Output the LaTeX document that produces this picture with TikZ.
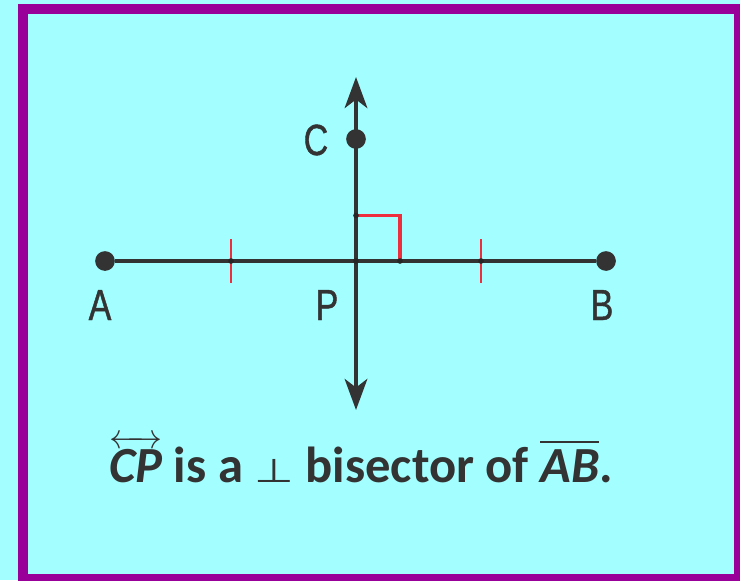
\documentclass[tikz,border=0pt]{standalone}
\usepackage{amsmath,amssymb}
\usepackage{fontspec}
\usepackage{graphicx}
\usetikzlibrary{arrows.meta,positioning,calc}
\newfontfamily\lblfont[FakeStretch=0.78,FakeBold=1]{Liberation Sans}
\newfontfamily\captfont{Carlito}
\newfontfamily\symfont{DejaVu Sans}
\definecolor{bgcyan}{HTML}{A3FEFF}
\definecolor{framepurple}{HTML}{990099}
\definecolor{inkgray}{HTML}{333333}
\definecolor{markred}{HTML}{EE2E3C}

\begin{document}
\begin{tikzpicture}[
    x=0.025cm, y=-0.025cm,
    seg/.style={draw=inkgray, line width=3.2pt},
    ray/.style={seg, -{Stealth[length=22pt, width=16pt, inset=6pt]}},
    bigdot/.style={circle, fill=inkgray, inner sep=0pt, minimum size=14pt},
    smalldot/.style={circle, fill=black!85, inner sep=0pt, minimum size=4pt},
    tick/.style={draw=markred, line width=2pt},
    lbl/.style={text=inkgray, font=\lblfont\fontsize{31}{31}\selectfont, inner sep=0pt}
]
\useasboundingbox (0,0) rectangle (740,580);
\fill[bgcyan] (0,0) rectangle (740,580);
\draw[framepurple, line width=7.1pt] (23,9) rectangle (739,579);

% points
\node[bigdot] (A) at (105,261) {};
\node[bigdot] (B) at (606,261) {};
\node[bigdot] (C) at (356,139) {};
\coordinate (P) at (356,261);
\coordinate (top) at (356,77);
\coordinate (bot) at (356,410);
\coordinate (M1) at (231,261);
\coordinate (M2) at (481,261);

% segment and perpendicular line
\draw[seg] (A) -- (B);
\draw[ray] (P) -- (top);
\draw[ray] (P) -- (bot);

% congruence ticks and right angle
\draw[tick] ($(M1)+(0,-22)$) -- ($(M1)+(0,22)$);
\draw[tick] ($(M2)+(0,-22)$) -- ($(M2)+(0,22)$);
\draw[markred, line width=2.4pt] (356,215.5) -- (400,215.5) -- (400,261);
\foreach \p in {P,M1,M2} \node[smalldot] at (\p) {};
\node[smalldot] at (356,215.5) {};
\node[smalldot] at (400,261) {};

% labels
\node[lbl] (labA) at (100,305) {A};
\node[lbl] (labP) at (327,305) {P};
\node[lbl] (labB) at (602,305) {B};
\node[lbl] (labC) at (316,140) {C};

\node[anchor=base west, inner sep=0pt, text=inkgray,
      font=\captfont\bfseries\fontsize{36}{36}\selectfont] (capt) at (109,482)
  {$\overleftrightarrow{\hbox{\captfont\bfseries\itshape CP}}$ is a
   \scalebox{0.9}[0.65]{\symfont\mdseries ⊥} bisector of
   $\overline{\hbox{\captfont\bfseries\itshape AB}}$.};
\end{tikzpicture}
\end{document}
